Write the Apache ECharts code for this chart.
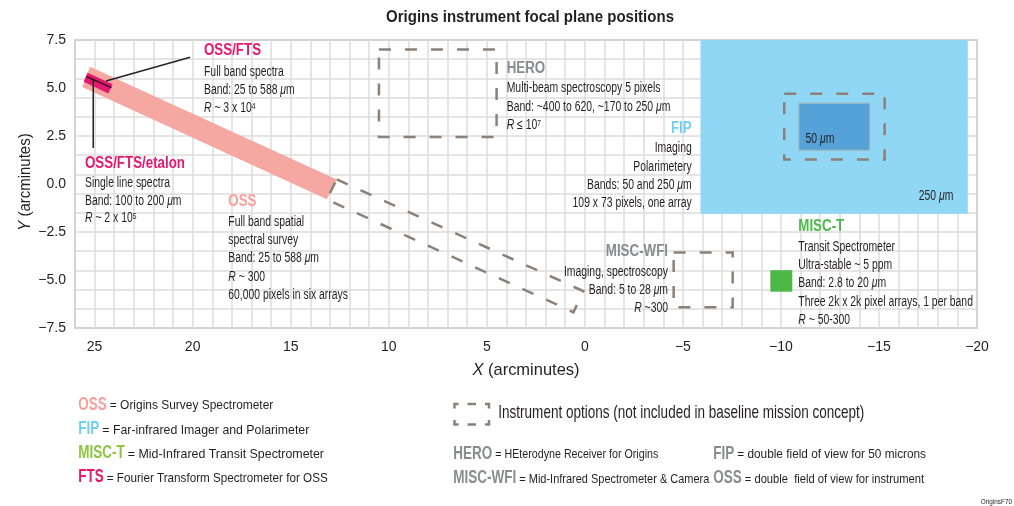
<!DOCTYPE html>
<html><head><meta charset="utf-8">
<script src="https://cdn.jsdelivr.net/npm/echarts@6/dist/echarts.min.js"></script>
<style>html,body{margin:0;padding:0;background:#fff}#c{width:1014px;height:506px}</style>
</head><body><div id="c"></div>
<script>
// ---------- data (arcminutes) ----------
const xTickStep = 5;
const yTickStep = 2.5;
const ossBand     = [[25.23, 6.11], [12.65, 0.24], [13.16, -0.80], [25.63, 5.05]];
const ossDouble   = [[12.65, 0.24], [0.08, -5.58], [0.58, -6.68], [13.16, -0.80]];
const ftsBox      = [[25.36, 5.80], [24.08, 5.20], [24.30, 4.72], [25.56, 5.32]];
const etalonLine  = [[25.42, 5.60], [24.14, 5.02]];
const ftsLeader   = [[20.13, 6.60], [24.42, 5.36]];
const etalonLeader= [[25.07, 5.48], [25.07, 1.87]];
const heroBox     = [[10.5, 7.0], [4.5, 7.0], [4.5, 2.45], [10.5, 2.45]];
const fip250      = [[-5.9, 7.6], [-19.53, 7.6], [-19.53, -1.55], [-5.9, -1.55]];
const fip50       = [[-10.92, 4.21], [-14.53, 4.21], [-14.53, 1.76], [-10.92, 1.76]];
const fipDouble   = [[-10.17, 4.70], [-15.29, 4.70], [-15.29, 1.27], [-10.17, 1.27]];
const wfiBox      = [[-4.53, -3.57], [-7.54, -3.57], [-7.54, -6.42], [-4.53, -6.42]];
const miscTBox    = [[-9.46, -4.49], [-10.58, -4.49], [-10.58, -5.61], [-9.46, -5.61]];

// ---------- styles ----------
const FONT = '"Liberation Sans",Arial,sans-serif';
const F = (s, w) => (w ? w + ' ' : '') + s + 'px ' + FONT;
const TXT = '#231f20';
const C = {oss:'#f5a29c', band:'#f5a7a1', fip:'#6fcff5', fipFill:'#8fd7f5', fipIn:'#55a2d8',
  miscT:'#4cb848', miscTLeg:'#8dc63f', fts:'#e5176f', gray:'#898b8e', dash:'#8c8178'};

// condensed look: horizontal squeeze factors measured from the font in use
const mctx = document.createElement('canvas').getContext('2d');
function mw(t, f) { mctx.font = f; return mctx.measureText(t).width; }
const BS = 14, HS = 16, LBS = 13.5, LHS = 18;
const SXB  = 85 / mw('Single line spectra', F(BS));
const SXH  = 100 / mw('OSS/FTS/etalon', F(HS, 'bold'));
const SXLH = 63 / mw('MISC-WFI', F(LHS, 'bold'));
const SXI  = 366 / mw('Instrument options (not included in baseline mission concept)', F(18.5));
const SXT  = 288 / mw('Origins instrument focal plane positions', F(17, 'bold'));

const chart = echarts.init(document.getElementById('c'), null, {renderer:'canvas'});

function polySeries(pts, style, z) {
  return {type:'custom', xAxisIndex:0, yAxisIndex:0, clip:true, silent:true, z:z||2,
    data:[[pts[0][0], pts[0][1]]],
    renderItem:(p, api) => ({type: pts.length === 2 ? 'polyline' : 'polygon',
      shape:{points: pts.map(q => api.coord(q))}, style: style})};
}
const dashStyle = {fill:null, stroke:C.dash, lineWidth:2.5, lineDash:[12,14]};
const minus = v => (v < 0 ? '\u2212' + Math.abs(v) : '' + v);

function rich(b) {
  return {
    n:{fontFamily:FONT, fontSize:b, fill:TXT},
    i:{fontFamily:FONT, fontSize:b, fontStyle:'italic', fill:TXT},
    s:{fontFamily:FONT, fontSize:b * 0.64, fill:TXT, verticalAlign:'top', padding:[1,0,0,0]}
  };
}
function body(x, y, text, align, sx, size) {
  return {type:'text', x:x, y:y, scaleX:sx || SXB, silent:true, z:50,
    style:{text:text, rich:rich(size || BS), align:align || 'left', verticalAlign:'middle'}};
}
function head(x, y, text, color, align, sx, size) {
  return {type:'text', x:x, y:y, scaleX:sx || SXH, silent:true, z:50,
    style:{text:text, fontFamily:FONT, fontWeight:'bold', fontSize:size || HS, fill:color,
      align:align || 'left', verticalAlign:'middle'}};
}
function block(x, align, hColor, header, hy, lines, ys) {
  const els = [head(x, hy, header, hColor, align)];
  lines.forEach((t, k) => els.push(body(x, ys[k], t, align)));
  return els;
}
// legend entry: bold coloured key, then the explanation squeezed to end at xEnd
function legendLine(x, y, header, color, text, xEnd) {
  const hw = mw(header, F(LHS, 'bold')) * SXLH;
  const x2 = x + hw + 3;
  const sx = (xEnd - x2) / mw(text, F(LBS));
  return [head(x, y, header, color, 'left', SXLH, LHS),
          body(x2, y + 0.5, '{n|' + text + '}', 'left', sx, LBS)];
}
const MU = '{i|\u03bc}{n|m}';

function iconLine(pts) {
  return {type:'polyline', shape:{points:pts}, silent:true, style:{stroke:C.dash, lineWidth:2.5, fill:null}};
}
const axisNameRich = {a:{fontFamily:FONT, fontSize:17, fontStyle:'italic', fill:TXT}, b:{fontFamily:FONT, fontSize:17, fill:TXT}};

const graphics = [].concat(
  [{type:'text', x:530, y:17, scaleX:SXT, style:{text:'Origins instrument focal plane positions', fontFamily:FONT, fontWeight:'bold', fontSize:17, fill:TXT, align:'center', verticalAlign:'middle'}}],
  block(204, 'left', C.fts, 'OSS/FTS', 50.7,
    ['{n|Full band spectra}', '{n|Band: 25 to 588 }' + MU, '{i|R}{n| ~ 3 x 10}{s|4}'], [71.7, 90, 108.3]),
  block(85, 'left', C.fts, 'OSS/FTS/etalon', 163.3,
    ['{n|Single line spectra}', '{n|Band: 100 to 200 }' + MU, '{i|R}{n| ~ 2 x 10}{s|5}'], [183.3, 201, 218.5]),
  block(506.7, 'left', C.gray, 'HERO', 68.3,
    ['{n|Multi-beam spectroscopy 5 pixels}', '{n|Band: ~400 to 620, ~170 to 250 }' + MU, '{i|R}{n| \u2264 10}{s|7}'], [88.3, 106.7, 125]),
  block(691.7, 'right', C.fip, 'FIP', 129,
    ['{n|Imaging}', '{n|Polarimetery}', '{n|Bands: 50 and 250 }' + MU, '{n|109 x 73 pixels, one array}'], [148.3, 166.7, 185, 203.3]),
  block(228.3, 'left', C.oss, 'OSS', 201.7,
    ['{n|Full band spatial}', '{n|spectral survey}', '{n|Band: 25 to 588 }' + MU, '{i|R}{n| ~ 300}', '{n|60,000 pixels in six arrays}'], [221.7, 240, 258.3, 276.7, 295]),
  block(668, 'right', C.gray, 'MISC-WFI', 251.7,
    ['{n|Imaging, spectroscopy}', '{n|Band: 5 to 28 }' + MU, '{i|R}{n| ~300}'], [271.7, 290, 308.3]),
  block(798.3, 'left', C.miscT, 'MISC-T', 226.7,
    ['{n|Transit Spectrometer}', '{n|Ultra-stable ~ 5 ppm}', '{n|Band: 2.8 to 20 }' + MU, '{n|Three 2k x 2k pixel arrays, 1 per band}', '{i|R}{n| ~ 50-300}'], [246.7, 265, 283.3, 301.7, 320]),
  [
    body(820, 139, '{n|50 }' + MU, 'center'),
    body(936, 195.7, '{n|250 }' + MU, 'center'),
    // axis names
    {type:'text', x:526, y:370, scaleX:0.97, style:{text:'{a|X}{b| (arcminutes)}', align:'center', verticalAlign:'middle', rich:axisNameRich}},
    {type:'text', x:25, y:182, rotation:Math.PI/2, scaleX:0.88, style:{text:'{a|Y}{b| (arcminutes)}', align:'center', verticalAlign:'middle', rich:axisNameRich}},
    // legend right: dashed icon + note
    iconLine([[458.5,404],[454.5,404],[454.5,408.5]]),
    iconLine([[485,404],[489,404],[489,408.5]]),
    iconLine([[454.5,420],[454.5,424.5],[458.5,424.5]]),
    iconLine([[489,420],[489,424.5],[485,424.5]]),
    iconLine([[467.5,404],[476,404]]),
    iconLine([[467.5,424.5],[476,424.5]]),
    body(498.3, 413.3, '{n|Instrument options (not included in baseline mission concept)}', 'left', SXI, 18.5),
    body(1012, 502, '{n|OriginsF70}', 'right', 0.85, 7.5)
  ],
  legendLine(78.3, 405,   'OSS', C.oss, '= Origins Survey Spectrometer', 273.3),
  legendLine(78.3, 429.5, 'FIP', C.fip, '= Far-infrared Imager and Polarimeter', 309.3),
  legendLine(78.3, 453.3, 'MISC-T', C.miscTLeg, '= Mid-Infrared Transit Spectrometer', 324),
  legendLine(78.3, 477.3, 'FTS', C.fts, '= Fourier Transform Spectrometer for OSS', 327.7),
  legendLine(453.3, 454,  'HERO', C.gray, '= HEterodyne Receiver for Origins', 658.3),
  legendLine(453.3, 478.3,'MISC-WFI', C.gray, '= Mid-Infrared Spectrometer & Camera', 709.3),
  legendLine(713.3, 454,  'FIP', C.gray, '= double field of view for 50 microns', 926),
  legendLine(713.3, 478.3,'OSS', C.gray, '= double  field of view for instrument', 924)
);

const gridLine = {show:true, lineStyle:{color:'#dcdcdc', width:1.5}};
const option = {
  animation:false,
  backgroundColor:'#fff',
  grid:{left:75, right:37, top:40, bottom:178, show:true, borderColor:'#a3a3a3', borderWidth:1.5, backgroundColor:'transparent'},
  xAxis:[
    {type:'value', min:-20, max:26, interval:xTickStep, inverse:true, position:'bottom',
      axisLine:{show:false}, axisTick:{show:false}, splitLine:{show:false},
      axisLabel:{showMaxLabel:false, margin:12, fontFamily:FONT, fontSize:14, color:TXT, formatter:minus}},
    {type:'value', min:-20, max:26, interval:1, inverse:true, position:'top',
      axisLine:{show:false}, axisTick:{show:false}, axisLabel:{show:false}, splitLine:gridLine}
  ],
  yAxis:[
    {type:'value', min:-7.5, max:7.5, interval:yTickStep,
      axisLine:{show:false}, axisTick:{show:false}, splitLine:{show:false},
      axisLabel:{margin:9, fontFamily:FONT, fontSize:14, color:TXT, formatter:v => (v < 0 ? '\u2212' : '') + Math.abs(v).toFixed(1)}},
    {type:'value', min:0, max:15, interval:1, position:'right',
      axisLine:{show:false}, axisTick:{show:false}, axisLabel:{show:false}, splitLine:gridLine}
  ],
  series:[
    polySeries(fip250, {fill:C.fipFill}, 2),
    polySeries(fip50, {fill:C.fipIn, stroke:'#a9b4bb', lineWidth:1}, 3),
    polySeries(fipDouble, dashStyle, 4),
    polySeries(ossBand, {fill:C.band}, 2),
    polySeries(ossDouble, dashStyle, 4),
    polySeries(ftsBox, {fill:C.fts}, 3),
    polySeries(etalonLine, {stroke:'#3a1020', lineWidth:1.5, fill:null}, 5),
    polySeries(ftsLeader, {stroke:'#222', lineWidth:1.5, fill:null}, 5),
    polySeries(etalonLeader, {stroke:'#222', lineWidth:1.5, fill:null}, 5),
    polySeries(heroBox, dashStyle, 4),
    polySeries(wfiBox, dashStyle, 4),
    polySeries(miscTBox, {fill:C.miscT}, 3)
  ],
  graphic:graphics
};
chart.setOption(option);
</script>
</body></html>
